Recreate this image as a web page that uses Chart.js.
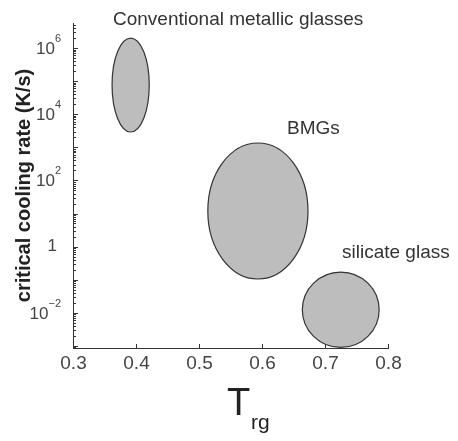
<!DOCTYPE html>
<html>
<head>
<meta charset="utf-8">
<script src="https://cdn.jsdelivr.net/npm/chart.js@4.4.1/dist/chart.umd.min.js"></script>
<style>
  html, body { margin: 0; padding: 0; background: #fff; }
  #wrap { width: 458px; height: 441px; position: relative; }
</style>
</head>
<body>
<div id="wrap"><canvas id="glassChart"></canvas></div>
<script>
// glass families: reduced glass temperature (Trg) range and critical cooling rate range (K/s)
const regionNames = ['Conventional metallic glasses', 'BMGs', 'silicate glass'];
const trgMin = [0.362, 0.514, 0.664];
const trgMax = [0.421, 0.673, 0.786];
const rateMin = [2900, 0.105, 0.0009];
const rateMax = [2.0e6, 1350, 0.17];

// where each family's name is written
const labelTrg = [0.3635, 0.6397, 0.727];
const labelRate = [7.0e6, 3700, 0.64];

// axes
const xTicks = [0.3, 0.4, 0.5, 0.6, 0.7, 0.8];
const yTickExps = [-2, 0, 2, 4, 6];
const yMin = 8.65e-4;
const yMax = 5.69e6;

const FONT = '"Liberation Sans", Arial, Helvetica, sans-serif';

// Helper: superscript tick label "10^n"
function drawPowerLabel(ctx, exp, xRight, yPix) {
  ctx.fillStyle = '#444';
  ctx.textBaseline = 'middle';
  if (exp === 0) {
    ctx.font = '17px ' + FONT;
    ctx.textAlign = 'right';
    ctx.fillText('1', xRight - 4, yPix);
    return;
  }
  ctx.font = '11px ' + FONT;
  const sup = String(exp).replace('-', '\u2212');
  const supW = ctx.measureText(sup).width;
  ctx.textAlign = 'right';
  ctx.fillText(sup, xRight, yPix - 9);
  ctx.font = '17px ' + FONT;
  ctx.fillText('10', xRight - supW, yPix + 1);
}

const regionPlugin = {
  id: 'regions',
  beforeDatasetsDraw(chart) {
    const { ctx, scales: { x, y } } = chart;
    ctx.save();
    for (let i = 0; i < regionNames.length; i++) {
      const left = x.getPixelForValue(trgMin[i]);
      const right = x.getPixelForValue(trgMax[i]);
      const top = y.getPixelForValue(rateMax[i]);
      const bottom = y.getPixelForValue(rateMin[i]);
      ctx.beginPath();
      ctx.ellipse((left + right) / 2, (top + bottom) / 2, (right - left) / 2, (bottom - top) / 2, 0, 0, Math.PI * 2);
      ctx.fillStyle = '#bdbdbd';
      ctx.fill();
      ctx.lineWidth = 1.2;
      ctx.strokeStyle = '#333';
      ctx.stroke();
    }
    ctx.restore();
  },
  afterDraw(chart) {
    const { ctx, chartArea, scales: { x, y } } = chart;
    ctx.save();

    // inward tick marks on the y axis (log minor ticks)
    ctx.strokeStyle = '#333';
    ctx.lineWidth = 1;
    y.ticks.forEach(t => {
      const py = Math.round(y.getPixelForValue(t.value)) + 0.5;
      const mant = t.value / Math.pow(10, Math.floor(Math.log10(t.value) + 1e-9));
      const len = Math.abs(mant - 1) < 1e-6 ? 5 : 3;
      ctx.beginPath();
      ctx.moveTo(chartArea.left, py);
      ctx.lineTo(chartArea.left + len, py);
      ctx.stroke();
    });

    // inward tick marks and labels on the x axis
    ctx.fillStyle = '#444';
    ctx.font = '19px ' + FONT;
    ctx.textAlign = 'center';
    ctx.textBaseline = 'middle';
    xTicks.forEach(v => {
      const px = Math.round(x.getPixelForValue(v)) + 0.5;
      ctx.beginPath();
      ctx.moveTo(px, chartArea.bottom);
      ctx.lineTo(px, chartArea.bottom - 4);
      ctx.stroke();
      ctx.fillText(v.toFixed(1), px, chartArea.bottom + 16);
    });

    // y tick labels
    yTickExps.forEach(e => {
      drawPowerLabel(ctx, e, chartArea.left - 12, y.getPixelForValue(Math.pow(10, e)));
    });

    // family names
    ctx.fillStyle = '#333';
    ctx.font = '19px ' + FONT;
    ctx.textAlign = 'left';
    ctx.textBaseline = 'middle';
    regionNames.forEach((name, i) => {
      ctx.fillText(name, x.getPixelForValue(labelTrg[i]), y.getPixelForValue(labelRate[i]));
    });

    // y axis title
    ctx.save();
    ctx.translate(24, (chartArea.top + chartArea.bottom) / 2);
    ctx.rotate(-Math.PI / 2);
    ctx.font = 'bold 20px ' + FONT;
    ctx.fillStyle = '#222';
    ctx.textAlign = 'center';
    ctx.textBaseline = 'middle';
    ctx.fillText('critical cooling rate (K/s)', 0, 0);
    ctx.restore();

    // x axis title: T with subscript rg
    ctx.fillStyle = '#222';
    ctx.textAlign = 'left';
    ctx.textBaseline = 'alphabetic';
    ctx.font = '38px ' + FONT;
    ctx.fillText('T', 227, 415);
    ctx.font = '21px ' + FONT;
    ctx.fillText('rg', 251, 429);

    ctx.restore();
  }
};

const ctx = document.getElementById('glassChart').getContext('2d');
new Chart(ctx, {
  type: 'scatter',
  data: {
    datasets: [{
      label: 'regions',
      data: regionNames.map((n, i) => ({ x: (trgMin[i] + trgMax[i]) / 2, y: Math.sqrt(rateMin[i] * rateMax[i]) })),
      pointRadius: 0,
      pointHoverRadius: 0
    }]
  },
  options: {
    responsive: true,
    maintainAspectRatio: false,
    animation: false,
    events: [],
    layout: { padding: { top: 23, right: 70, left: 0, bottom: 0 } },
    plugins: {
      legend: { display: false },
      tooltip: { enabled: false }
    },
    scales: {
      x: {
        type: 'linear',
        min: 0.3,
        max: 0.8,
        afterBuildTicks: s => { s.ticks = xTicks.map(v => ({ value: v })); },
        afterFit: s => { s.height = 93; },
        grid: { display: false },
        border: { display: true, color: '#333', width: 1 },
        ticks: { display: false }
      },
      y: {
        type: 'logarithmic',
        min: yMin,
        max: yMax,
        afterBuildTicks: s => {
          const ticks = [];
          for (let e = Math.floor(Math.log10(yMin)); e <= Math.ceil(Math.log10(yMax)); e++) {
            for (let m = 1; m <= 9; m++) {
              const v = m * Math.pow(10, e);
              if (v >= yMin && v <= yMax) ticks.push({ value: v });
            }
          }
          s.ticks = ticks;
        },
        afterFit: s => { s.width = 73; },
        grid: { display: false },
        border: { display: true, color: '#333', width: 1 },
        ticks: { display: false }
      }
    }
  },
  plugins: [regionPlugin]
});
</script>
</body>
</html>
